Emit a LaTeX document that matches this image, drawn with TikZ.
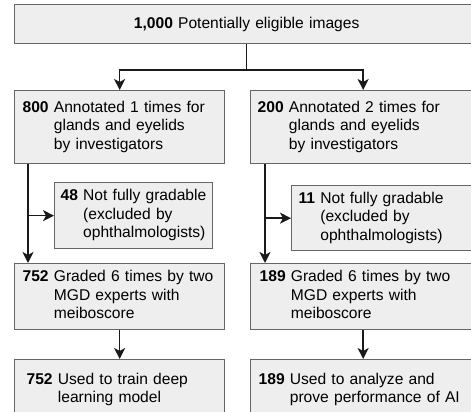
\documentclass[tikz,border=0pt]{standalone}
\usepackage{fontspec}
\setmainfont{Liberation Sans}
\usetikzlibrary{arrows.meta}
\definecolor{boxfill}{HTML}{EEEEEE}
\definecolor{boxline}{HTML}{666666}
\definecolor{connc}{HTML}{1A1A1A}
\newcommand{\fsz}{\fontsize{15.6}{18.5}\selectfont}
\newcommand{\entry}[2]{\begin{tabular}{@{}l@{ }l@{}}\textbf{#1} & #2\end{tabular}}
\begin{document}
\begin{tikzpicture}[x=1pt,y=-1pt,
  box/.style={draw=boxline, fill=boxfill, line width=1.3pt, anchor=north west, inner ysep=0pt, font=\fsz, align=left},
  conn/.style={draw=connc, line width=1.6pt, -{Stealth[length=11pt,width=11pt,inset=3pt]}},
  plain/.style={draw=connc, line width=1.6pt}]
\useasboundingbox (0,0) rectangle (471,412);
\clip (0,0) rectangle (471,412);
\node[box, inner xsep=8pt, text width=448pt, minimum height=39pt, align=center] (top) at (14,4) {\textbf{1,000} Potentially eligible images};
\node[box, inner xsep=8pt, text width=194pt, minimum height=73pt] (b800) at (14,90) {\entry{800}{Annotated 1 times for\\ & glands and eyelids\\ & by investigators}};
\node[box, inner xsep=7pt, text width=211pt, minimum height=73pt] (b200) at (250,90) {\entry{200}{Annotated 2 times for\\ & glands and eyelids\\ & by investigators}};
\node[box, inner xsep=6pt, text width=146pt, minimum height=66pt] (b48) at (54,182) {\entry{48}{Not fully gradable\\ & (excluded by\\ & ophthalmologists)}};
\node[box, inner xsep=7pt, text width=170pt, minimum height=65pt] (b11) at (291,185) {\entry{11}{Not fully gradable\\ & (excluded by\\ & ophthalmologists)}};
\node[box, inner xsep=8pt, text width=194pt, minimum height=66pt] (g752) at (14,263) {\entry{752}{Graded 6 times by two\\ & MGD experts with\\ & meiboscore}};
\node[box, inner xsep=9pt, text width=207pt, minimum height=66pt] (g189) at (250,263) {\entry{189}{Graded 6 times by two\\ & MGD experts with\\ & meiboscore}};
\node[box, inner xsep=12pt, text width=186pt, minimum height=60pt] (u752) at (14,359) {\entry{752}{Used to train deep\\ & learning model}};
\node[box, inner xsep=8pt, text width=209pt, minimum height=60pt] (u189) at (250,359) {\entry{189}{Used to analyze and\\ & prove performance of AI}};
\draw[plain] (top.south) -- ++(0,26) coordinate (split);
\draw[conn] (split) -| (b800.north);
\draw[conn] (split) -| (b200.north);
\coordinate (l1) at ([xshift=14pt]b800.south west);
\coordinate (r1) at ([xshift=15pt]b200.south west);
\draw[conn] (l1) -- (l1 |- g752.north);
\draw[conn] (l1 |- b48.west) -- (b48.west);
\draw[conn] (r1) -- (r1 |- g189.north);
\draw[conn] (r1 |- b11.west) -- (b11.west);
\draw[conn] (g752.south) -- (u752.north);
\draw[conn] (g189.south) -- (u189.north);
\end{tikzpicture}
\end{document}
